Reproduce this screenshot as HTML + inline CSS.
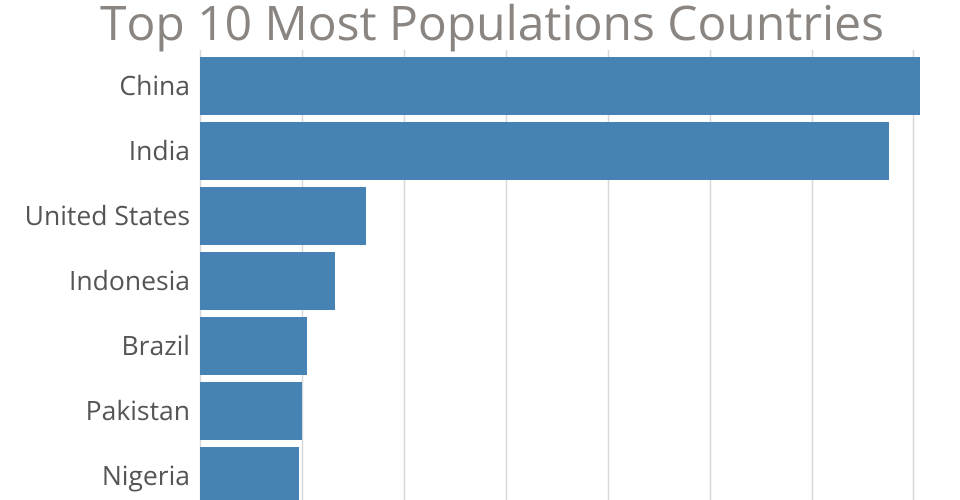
<!DOCTYPE html>
<html><head><style>
body{margin:0;background:#fff;}
svg{display:block;font-family:"Open Sans","Liberation Sans",sans-serif;}
</style></head><body>
<svg width="960" height="500" xmlns="http://www.w3.org/2000/svg">
<text x="492" y="40" text-anchor="middle" font-size="48" fill="#8a8580">Top 10 Most Populations Countries</text>
<g stroke="#d8d8d8" stroke-width="1.5">
<line x1="200.5" y1="50" x2="200.5" y2="500"/>
<line x1="302.5" y1="50" x2="302.5" y2="500"/>
<line x1="404.5" y1="50" x2="404.5" y2="500"/>
<line x1="506.5" y1="50" x2="506.5" y2="500"/>
<line x1="608.5" y1="50" x2="608.5" y2="500"/>
<line x1="710.5" y1="50" x2="710.5" y2="500"/>
<line x1="812.5" y1="50" x2="812.5" y2="500"/>
<line x1="913.5" y1="50" x2="913.5" y2="500"/>
</g>
<g fill="#4682b4">
<rect x="200" y="57" width="720" height="58"/>
<rect x="200" y="122" width="689" height="58"/>
<rect x="200" y="187" width="166" height="58"/>
<rect x="200" y="252" width="135" height="58"/>
<rect x="200" y="317" width="107" height="58"/>
<rect x="200" y="382" width="102" height="58"/>
<rect x="200" y="447" width="99" height="58"/>
</g>
<g font-size="26.5" fill="#555" text-anchor="end">
<text x="190" y="95">China</text>
<text x="190" y="160">India</text>
<text x="190" y="225">United States</text>
<text x="190" y="290">Indonesia</text>
<text x="190" y="355">Brazil</text>
<text x="190" y="420">Pakistan</text>
<text x="190" y="485">Nigeria</text>
</g>
</svg>
</body></html>
